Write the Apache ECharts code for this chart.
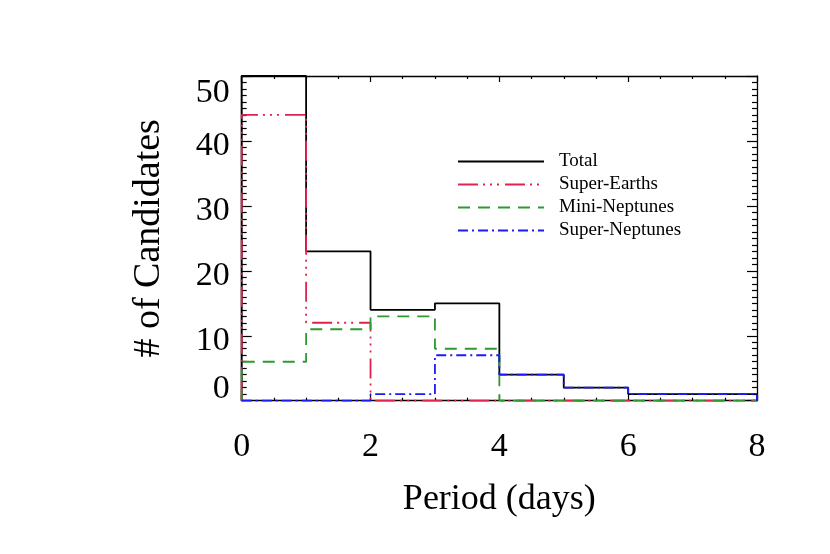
<!DOCTYPE html>
<html>
<head>
<meta charset="utf-8">
<script src="https://cdn.jsdelivr.net/npm/echarts@6/dist/echarts.min.js"></script>
<style>
  html, body { margin: 0; padding: 0; background: #fff; }
  #main { width: 830px; height: 554px; }
</style>
</head>
<body>
<div id="main"></div>
<script>
// bin edges (days) and counts per 1-day bin
const binEdges = [0, 1, 2, 3, 4, 5, 6, 7, 8];
const total = [50, 23, 14, 15, 4, 2, 1, 1];
const superEarths = [44, 12, 0, 0, 0, 0, 0, 0];
const miniNeptunes = [6, 11, 13, 8, 0, 0, 0, 0];
const superNeptunes = [0, 0, 1, 7, 4, 2, 1, 1];
const seriesNames = ['Total', 'Super-Earths', 'Mini-Neptunes', 'Super-Neptunes'];

// histogram outline: up at the first edge, flat across each bin, down at the last edge
const steps = (vals) => {
  const pts = [[binEdges[0], 0]];
  vals.forEach((v, i) => {
    pts.push([binEdges[i], v]);
    pts.push([binEdges[i + 1], v]);
  });
  pts.push([binEdges[binEdges.length - 1], 0]);
  return pts;
};

const serif = 'Liberation Serif';
const chart = echarts.init(document.getElementById('main'));

const xAxisBase = {
  type: 'value',
  min: 0,
  max: 8,
  interval: 2,
  axisLine: { onZero: false, lineStyle: { color: '#000', width: 1.3 } },
  axisTick: { inside: true, length: 6, lineStyle: { color: '#000', width: 1.2 } },
  minorTick: { show: true, splitNumber: 4, length: 3, lineStyle: { color: '#000', width: 1.2 } },
  splitLine: { show: false }
};
const yAxisBase = {
  type: 'value',
  min: 0,
  max: 50,
  interval: 10,
  axisLine: { show: true, onZero: false, lineStyle: { color: '#000', width: 1.3 } },
  axisTick: { show: true, inside: true, length: 10, lineStyle: { color: '#000', width: 1.2 } },
  minorTick: { show: true, splitNumber: 10, length: 5, lineStyle: { color: '#000', width: 1.2 } },
  splitLine: { show: false }
};

const mkSeries = (name, vals, color, dash) => ({
  name: name,
  type: 'line',
  data: steps(vals),
  symbol: 'none',
  clip: false,
  animation: false,
  lineStyle: { color: color, width: 1.8, type: dash },
  itemStyle: { color: color }
});

const option = {
  backgroundColor: '#fff',
  animation: false,
  grid: { left: 241.7, right: 73, top: 76, bottom: 153.3 },
  legend: {
    data: seriesNames,
    orient: 'vertical',
    left: 452,
    top: 147,
    itemWidth: 86,
    itemHeight: 12,
    itemGap: 4,
    itemStyle: { color: 'rgba(0,0,0,0)', borderWidth: 0 },
    textStyle: { fontFamily: serif, fontSize: 19, color: '#000', padding: [0, 0, 0, 10] }
  },
  xAxis: [
    Object.assign({}, xAxisBase, {
      position: 'bottom',
      name: 'Period (days)',
      nameLocation: 'middle',
      nameGap: 81,
      nameTextStyle: { fontFamily: serif, fontSize: 36, color: '#000' },
      axisLabel: { fontFamily: serif, fontSize: 34, color: '#000', margin: 29 }
    }),
    Object.assign({}, xAxisBase, { position: 'top', axisLabel: { show: false } })
  ],
  yAxis: [
    Object.assign({}, yAxisBase, {
      position: 'left',
      name: '# of Candidates',
      nameLocation: 'middle',
      nameGap: 74,
      nameTextStyle: { fontFamily: serif, fontSize: 38, color: '#000' },
      axisLabel: {
        color: '#000',
        margin: 12,
        // nudge the labels like the original plot: end labels pulled inside the frame
        formatter: (v) => (v === 0 ? '{lo|' + v + '}' : v === 50 ? '{hi|' + v + '}' : '{mid|' + v + '}'),
        rich: {
          lo: { fontFamily: serif, fontSize: 34, color: '#000', padding: [0, 0, 24, 0] },
          hi: { fontFamily: serif, fontSize: 34, color: '#000', padding: [34, 0, 0, 0] },
          mid: { fontFamily: serif, fontSize: 34, color: '#000', padding: [10, 0, 0, 0] }
        }
      }
    }),
    Object.assign({}, yAxisBase, { position: 'right', axisLabel: { show: false } })
  ],
  series: [
    mkSeries('Total', total, '#000000', 'solid'),
    mkSeries('Super-Earths', superEarths, '#e0234e', [20, 5, 2, 5, 2, 5, 2, 6]),
    mkSeries('Mini-Neptunes', miniNeptunes, '#2e9a2e', [12, 8]),
    mkSeries('Super-Neptunes', superNeptunes, '#1a1aff', [10, 4, 2, 4])
  ]
};

chart.setOption(option);
</script>
</body>
</html>
